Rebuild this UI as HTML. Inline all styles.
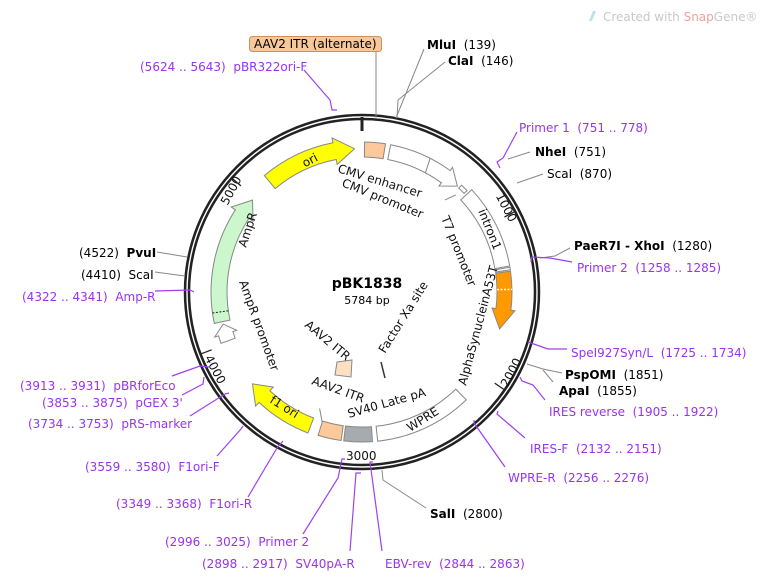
<!DOCTYPE html>
<html><head><meta charset="utf-8">
<style>
html,body{margin:0;padding:0;background:#fff;}
svg{display:block;font-family:"DejaVu Sans","Liberation Sans",sans-serif;}
text{white-space:pre;}
.o{font-size:12px;fill:#000;}
.p{font-size:12px;fill:#9933ee;}
.b{font-weight:bold;}
.f{font-size:12px;fill:#111;}
.gl{stroke:#888;stroke-width:1;fill:none;}
.pl{stroke:#a040f0;stroke-width:1.2;fill:none;}
</style></head>
<body>
<svg id="s" width="763" height="580" viewBox="0 0 763 580" xmlns="http://www.w3.org/2000/svg" xml:space="preserve">
<g id="feat"></g>
<circle cx="362" cy="292" r="175" fill="none" stroke="#222" stroke-width="6.5"/>
<circle cx="362" cy="292" r="175" fill="none" stroke="#fff" stroke-width="1.4"/>
<line x1="362" y1="117" x2="362" y2="131" stroke="#222" stroke-width="3"/>

<text class="f" x="0" y="0" transform="translate(499,194) rotate(62)" dominant-baseline="central">1000</text>
<text class="f" x="0" y="0" transform="translate(504,386) rotate(-62)" dominant-baseline="central">2000</text>
<text class="f" x="346" y="456" dominant-baseline="central">3000</text>
<text class="f" x="0" y="0" transform="translate(208,356) rotate(62)" dominant-baseline="central">4000</text>
<text class="f" x="0" y="0" transform="translate(224,204) rotate(-62)" dominant-baseline="central">5000</text>
<g id="ticks"></g>

<text x="367" y="288" text-anchor="middle" style="font-size:14px;font-weight:bold">pBK1838</text>
<text x="367" y="304" text-anchor="middle" style="font-size:11px">5784 bp</text>

<text class="f" transform="translate(303,164) rotate(-28)" dominant-baseline="central">ori</text>
<text class="f" transform="translate(337,172) rotate(17)">CMV enhancer</text>
<text class="f" transform="translate(341,186) rotate(22)">CMV promoter</text>
<text class="f" transform="translate(441,218) rotate(68)">T7 promoter</text>
<text class="f" transform="translate(478,211) rotate(68)">intron1</text>
<text class="f" transform="translate(466,386) rotate(-75)">AlphaSynucleinA53T</text>
<text class="f" transform="translate(410,432) rotate(-32)">WPRE</text>
<text class="f" transform="translate(349,418) rotate(-16)">SV40 Late pA</text>
<text class="f" transform="translate(311,384) rotate(20)">AAV2 ITR</text>
<text class="f" transform="translate(269,402) rotate(32)">f1 ori</text>
<text class="f" transform="translate(304,326) rotate(40)">AAV2 ITR</text>
<text class="f" transform="translate(385,354) rotate(-58)">Factor Xa site</text>
<text class="f" transform="translate(246,248) rotate(-72)">AmpR</text>
<text class="f" transform="translate(239,282) rotate(70)">AmpR promoter</text>
<line x1="381" y1="362" x2="385" y2="378" stroke="#333" stroke-width="1.5"/>
<path d="M337,362 L352,360 L351,377 L335,375 Z" fill="#fde0c2" stroke="#888"/>

<rect x="249.5" y="36.5" width="132" height="15" rx="3" fill="#f9c89a" stroke="#c99060"/>
<text x="254" y="44" class="o" dominant-baseline="central">AAV2 ITR (alternate)</text>
<line class="gl" x1="376" y1="52" x2="376" y2="119"/>
<text x="427" y="45" class="o" dominant-baseline="central"><tspan class="b">MluI</tspan>  (139)</text>
<line class="gl" x1="424" y1="49" x2="396" y2="118"/>
<text x="448" y="61" class="o" dominant-baseline="central"><tspan class="b">ClaI</tspan>  (146)</text>
<line class="gl" x1="445" y1="62" x2="398" y2="100"/>
<line class="gl" x1="398" y1="100" x2="397" y2="118"/>
<text x="140" y="67" class="p" dominant-baseline="central">(5624 .. 5643)  pBR322ori-F</text>
<polyline class="pl" points="304,70 330,100 332,110 337,110"/>

<text x="603" y="17" style="font-size:12px;fill:#c8c8c8" dominant-baseline="central">Created with <tspan style="fill:#f0a0a0">Snap</tspan>Gene®</text>
<path d="M589,21 L593,11 L596,11 L592,21 Z" fill="#bfe0ef"/>

<text x="519" y="128" class="p" dominant-baseline="central">Primer 1  (751 .. 778)</text>
<polyline class="pl" points="517,132 503,158 497,162 500,168"/>
<text x="535" y="152" class="o" dominant-baseline="central"><tspan class="b">NheI</tspan>  (751)</text>
<line class="gl" x1="530" y1="152" x2="508" y2="159"/>
<text x="547" y="174" class="o" dominant-baseline="central">ScaI  (870)</text>
<line class="gl" x1="543" y1="174" x2="517" y2="183"/>
<text x="574" y="246" class="o" dominant-baseline="central"><tspan class="b">PaeR7I - XhoI</tspan>  (1280)</text>
<polyline class="gl" points="570,248 555,256 540,258"/>
<text x="577" y="268" class="p" dominant-baseline="central">Primer 2  (1258 .. 1285)</text>
<polyline class="pl" points="572,262 550,258 532,257 531,262"/>
<text x="571" y="353" class="p" dominant-baseline="central">SpeI927Syn/L  (1725 .. 1734)</text>
<polyline class="pl" points="567,349 548,349 528,342"/>
<text x="565" y="375" class="o" dominant-baseline="central"><tspan class="b">PspOMI</tspan>  (1851)</text>
<text x="559" y="391" class="o" dominant-baseline="central"><tspan class="b">ApaI</tspan>  (1855)</text>
<polyline class="gl" points="562,373 543,369 527,364"/>
<polyline class="gl" points="553,382 543,370"/>
<text x="549" y="412" class="p" dominant-baseline="central">IRES reverse  (1905 .. 1922)</text>
<polyline class="pl" points="545,400 533,385 522,381 520,377"/>
<text x="530" y="449" class="p" dominant-baseline="central">IRES-F  (2132 .. 2151)</text>
<polyline class="pl" points="525,438 497,414 498,411"/>
<text x="508" y="478" class="p" dominant-baseline="central">WPRE-R  (2256 .. 2276)</text>
<polyline class="pl" points="505,467 474,423 474,420"/>

<text x="430" y="514" class="o" dominant-baseline="central"><tspan class="b">SalI</tspan>  (2800)</text>
<polyline class="gl" points="426,508 383,480 382,470"/>
<text x="165" y="542" class="p" dominant-baseline="central">(2996 .. 3025)  Primer 2</text>
<polyline class="pl" points="303,534 338,478 342,459 345,459"/>
<text x="202" y="564" class="p" dominant-baseline="central">(2898 .. 2917)  SV40pA-R</text>
<polyline class="pl" points="350,551 356,473 361,473"/>
<text x="385" y="564" class="p" dominant-baseline="central">EBV-rev  (2844 .. 2863)</text>
<polyline class="pl" points="382,551 370,462 373,462"/>

<text x="116" y="504" class="p" dominant-baseline="central">(3349 .. 3368)  F1ori-R</text>
<polyline class="pl" points="248,497 277,448 283,441"/>
<text x="85" y="467" class="p" dominant-baseline="central">(3559 .. 3580)  F1ori-F</text>
<polyline class="pl" points="217,456 241,429 243,426"/>
<text x="28" y="424" class="p" dominant-baseline="central">(3734 .. 3753)  pRS-marker</text>
<polyline class="pl" points="190,416 225,394 229,393"/>
<text x="42" y="403" class="p" dominant-baseline="central">(3853 .. 3875)  pGEX 3'</text>
<polyline class="pl" points="182,395 203,384 204,377"/>
<text x="20" y="386" class="p" dominant-baseline="central">(3913 .. 3931)  pBRforEco</text>
<polyline class="pl" points="172,376 200,366 209,367"/>
<text x="22" y="297" class="p" dominant-baseline="central">(4322 .. 4341)  Amp-R</text>
<polyline class="pl" points="155,291 190,290 194,292"/>
<text x="81" y="275" class="o" dominant-baseline="central">(4410)  ScaI</text>
<line class="gl" x1="155" y1="272" x2="185" y2="276"/>
<text x="79" y="253" class="o" dominant-baseline="central">(4522)  <tspan class="b">PvuI</tspan></text>
<line class="gl" x1="157" y1="252" x2="187" y2="257"/>
</svg>
<script>
var cx=362,cy=292,NS="http://www.w3.org/2000/svg";
function P(r,a){a=a*Math.PI/180;return [cx+r*Math.sin(a),cy-r*Math.cos(a)];}
function pt(p){return p[0].toFixed(1)+","+p[1].toFixed(1);}
function arc(r,a1,a2,sw){var l=Math.abs(a2-a1)>180?1:0;return "A"+r+","+r+" 0 "+l+","+sw+" "+pt(P(r,a2));}
function band(r1,r2,a1,a2){return "M"+pt(P(r2,a1))+arc(r2,a1,a2,1)+"L"+pt(P(r1,a2))+arc(r1,a2,a1,0)+"Z";}
function arrow(r1,r2,a1,a2,h,e){var m=(r1+r2)/2,b=a2-h;
 return "M"+pt(P(r2,a1))+arc(r2,a1,b,1)+"L"+pt(P(r2+e,b))+"L"+pt(P(m,a2))+"L"+pt(P(r1-e,b))+"L"+pt(P(r1,b))+arc(r1,b,a1,0)+"Z";}
var g=document.getElementById("feat");
function add(d,fill,stroke,sw,dash){var e=document.createElementNS(NS,"path");e.setAttribute("d",d);e.setAttribute("fill",fill);e.setAttribute("stroke",stroke||"#888");e.setAttribute("stroke-width",sw||1);if(dash)e.setAttribute("stroke-dasharray",dash);g.appendChild(e);}
add(band(135,150,1,9),"#fdc99a");
add(arrow(135,150,11,42,6,4),"#fff");
add("M"+pt(P(135,28))+"L"+pt(P(150,27)),"none","#888");
add(band(142,146,43,46),"#fff","#888");
add("M"+pt(P(124,42))+"L"+pt(P(135,44)),"none","#888");
add(band(135,150,47,80),"#fff");
add(band(135,150,80.5,81.5),"#fff");
add(arrow(135,150,82,105,8,4),"#ff9900");
add("M"+pt(P(135,89))+"L"+pt(P(150,89)),"none","#fff",1.5,"2,1.5");
add(band(135,150,136,174),"#fff");
add(band(135,150,176,187),"#a6abb0");
add(band(135,150,188,197),"#fdc99a");
add("M"+pt(P(136,197))+"L"+pt(P(124,200)),"none","#888");
add(arrow(135,151,201,230,7,5),"#ffff00");
add(arrow(135,150,250,257,4,4),"#fff");
add(arrow(135,151,258,310,7,5),"#ccf7cc");
add("M"+pt(P(135,262))+"L"+pt(P(151,262)),"none","#222",1,"2,1.5");
add(arrow(135,152,320,357,8,5),"#ffff00");
var t=document.getElementById("ticks");
[1000,2000,4000,5000].forEach(function(b){var a=b/5784*360;var e=document.createElementNS(NS,"path");e.setAttribute("d","M"+pt(P(161,a))+"L"+pt(P(172,a)));e.setAttribute("stroke","#222");e.setAttribute("stroke-width","1.3");t.appendChild(e);});
</script>
</body></html>
